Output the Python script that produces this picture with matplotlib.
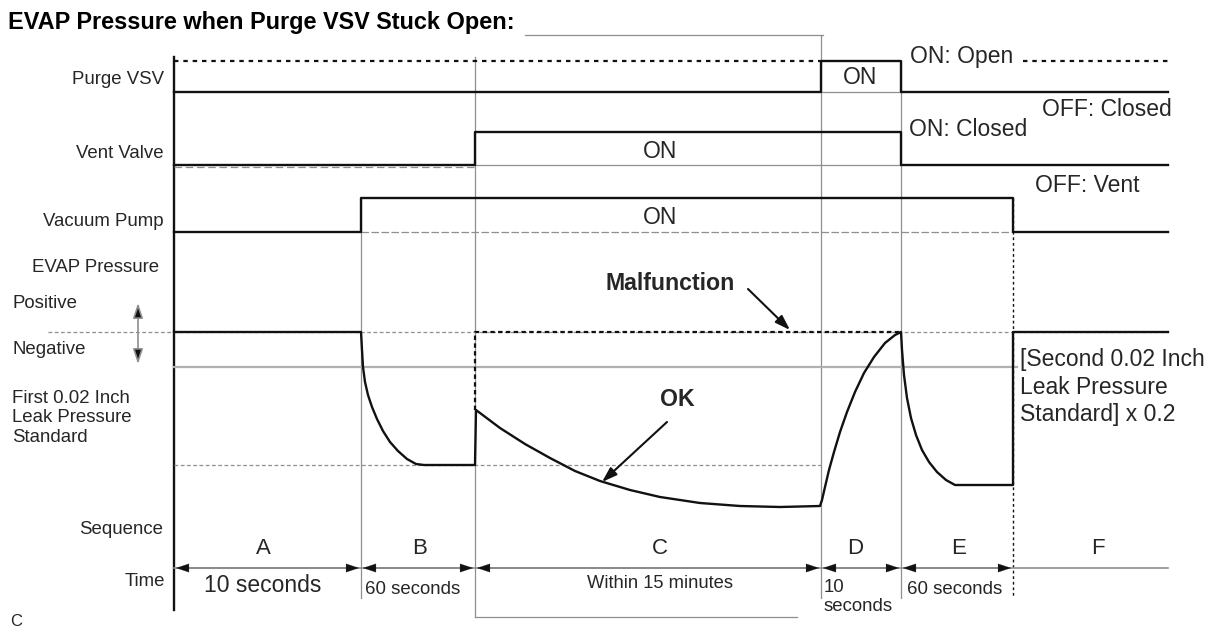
import matplotlib
matplotlib.use('Agg')
import matplotlib.pyplot as plt

plt.rcParams['font.family'] = ['Liberation Sans', 'DejaVu Sans']

# time axis (drawing units), one edge per phase boundary
phase_names = ['A', 'B', 'C', 'D', 'E', 'F']
phase_edges = [174, 361, 475, 821, 901, 1013, 1168]
phase_label_x = [263, 420, 660, 855, 959, 1098]

# on/off state per phase
purge_vsv = [0, 0, 0, 1, 0, 0]
vent_valve = [0, 0, 1, 1, 0, 0]
vacuum_pump = [0, 1, 1, 1, 1, 0]

# EVAP pressure trace (solid = OK case)
evap_t = [174, 361, 361, 362, 363, 365, 368, 372, 377, 383, 390, 398, 407, 416, 424, 475,
          475, 476, 500, 525, 550, 575, 600, 630, 660, 700, 740, 780, 820,
          822, 825, 829, 834, 840, 847, 855, 864, 874, 885, 895, 901,
          902, 904, 907, 911, 916, 922, 929, 937, 946, 955, 1013, 1013, 1168]
evap_y = [332, 332, 332, 350, 367, 382, 395, 407, 419, 431, 442, 451, 459, 464, 465, 465,
          465, 410, 428, 444, 458, 471, 481, 490, 497, 503, 506, 507, 506,
          500, 487, 470, 452, 432, 412, 392, 373, 357, 343, 335, 332,
          350, 375, 398, 418, 435, 450, 462, 472, 480, 485, 485, 332, 332]
malf_t = [475, 475, 901]
malf_y = [410, 332, 332]

zero_level = 332
first_std = 367
b_floor = 465

fig = plt.figure(figsize=(12.14, 6.34), dpi=100)
ax = fig.add_axes([0, 0, 1, 1])
ax.set_xlim(0, 1214)
ax.set_ylim(634, 0)
ax.axis('off')

gray = '#8f8f8f'
blk = '#111111'
txt = '#262626'
lw = 1.7

# title and frame lines
ax.text(8, 22, 'EVAP Pressure when Purge VSV Stuck Open:', fontsize=16.9,
        fontweight='bold', va='center', ha='left')
ax.plot([525, 823], [35, 35], color=gray, lw=0.9)
ax.plot([475, 797], [617, 617], color=gray, lw=0.9)
ax.plot([174, 174], [57, 610], color=blk, lw=lw)

# vertical phase lines
ax.plot([361, 361], [198, 598], color=gray, lw=0.9)
ax.plot([475, 475], [57, 617], color=gray, lw=0.9)
ax.plot([821, 821], [35, 598], color=gray, lw=0.9)
ax.plot([901, 901], [61, 598], color=gray, lw=0.9)
ax.plot([1013, 1013], [198, 598], color=blk, lw=1.0, ls=(0, (2, 2)))

# reference lines
ax.plot([821, 901], [92, 92], color=gray, lw=0.9)
ax.plot([174, 475], [167, 167], color=gray, lw=0.9, ls=(0, (6, 3)))
ax.plot([475, 901], [165, 165], color=gray, lw=0.9)
ax.plot([361, 1013], [232, 232], color=gray, lw=0.9, ls=(0, (6, 2)))
ax.plot([48, 1168], [zero_level, zero_level], color=gray, lw=0.9, ls=(0, (3, 2)))
ax.plot([174, 1017], [first_std, first_std], color='#b0b0b0', lw=1.6)
ax.plot([174, 821], [b_floor, b_floor], color=gray, lw=0.9, ls=(0, (3, 2)))

# Purge VSV / Vent Valve / Vacuum Pump
ax.plot([174, 821], [61, 61], color=blk, lw=1.6, ls=(0, (2, 2.2)))
ax.plot([1023, 1168], [61, 61], color=blk, lw=1.6, ls=(0, (2, 2.2)))
ax.step(phase_edges, [92 - 31 * v for v in purge_vsv + purge_vsv[-1:]],
        where='post', color=blk, lw=lw)
ax.step(phase_edges, [165 - 33 * v for v in vent_valve + vent_valve[-1:]],
        where='post', color=blk, lw=lw)
ax.step(phase_edges, [232 - 34 * v for v in vacuum_pump + vacuum_pump[-1:]],
        where='post', color=blk, lw=lw)

# EVAP pressure
ax.plot(malf_t, malf_y, color=blk, lw=1.6, ls=(0, (2, 1.5)))
ax.plot(evap_t, evap_y, color=blk, lw=lw)

# row labels
lab = dict(fontsize=13.4, va='center', color=txt)
ax.text(164, 79, 'Purge VSV', ha='right', **lab)
ax.text(164, 153, 'Vent Valve', ha='right', **lab)
ax.text(164, 222, 'Vacuum Pump', ha='right', **lab)
ax.text(159, 267, 'EVAP Pressure', ha='right', **lab)
ax.text(13, 303, 'Positive', ha='left', **lab)
ax.text(13, 349, 'Negative', ha='left', **lab)
ax.text(12, 418, 'First 0.02 Inch\nLeak Pressure\nStandard', ha='left',
        linespacing=1.22, **lab)
ax.text(163, 530, 'Sequence', ha='right', **lab)
ax.text(165, 582, 'Time', ha='right', **lab)
ax.text(10, 622, 'C', ha='left', fontsize=12, va='center', color=txt)

# positive / negative double arrow
ax.annotate('', xy=(138, 303), xytext=(138, 364),
            arrowprops=dict(arrowstyle='<|-|>,head_length=0.9,head_width=0.3',
                            fc=blk, ec=gray, lw=1.2, shrinkA=0, shrinkB=0))

# state labels
big = dict(fontsize=16.5, va='center', color=txt)
ax.text(860, 78, 'ON', ha='center', **big)
ax.text(660, 151, 'ON', ha='center', **big)
ax.text(660, 218, 'ON', ha='center', **big)
ax.text(910, 57, 'ON: Open', ha='left', **big)
ax.text(1042, 109, 'OFF: Closed', ha='left', **big)
ax.text(909, 130, 'ON: Closed', ha='left', **big)
ax.text(1035, 185, 'OFF: Vent', ha='left', **big)
ax.text(1020, 387, '[Second 0.02 Inch\nLeak Pressure\nStandard] x 0.2', ha='left',
        linespacing=1.25, **big)

# callouts
ax.text(670, 284, 'Malfunction', ha='center', va='center', fontsize=16.7,
        fontweight='bold', color=txt)
ax.text(677, 400, 'OK', ha='center', va='center', fontsize=16.7,
        fontweight='bold', color=txt)
arw = dict(arrowstyle='-|>,head_length=0.9,head_width=0.3', fc=blk, ec=blk,
           lw=1.5, shrinkA=0, shrinkB=0)
ax.annotate('', xy=(790, 330), xytext=(748, 289), arrowprops=arw)
ax.annotate('', xy=(602, 482), xytext=(667, 422), arrowprops=arw)

# sequence / time row
ax.plot([174, 1168], [568, 568], color=gray, lw=1.2)
for i, name in enumerate(phase_names):
    ax.text(phase_label_x[i], 548, name, ha='center', va='center', fontsize=16,
            color=txt)
for l, r in zip(phase_edges[:5], phase_edges[1:6]):
    ax.annotate('', xy=(l + 2, 568), xytext=(r - 2, 568),
                arrowprops=dict(arrowstyle='<|-|>,head_length=0.9,head_width=0.3',
                                fc=blk, ec=blk, lw=0.2, shrinkA=0, shrinkB=0))

ax.text(263, 585, '10 seconds', ha='center', va='center', fontsize=16.5, color=txt)
ax.text(413, 589, '60 seconds', ha='center', va='center', fontsize=13.4, color=txt)
ax.text(660, 583, 'Within 15 minutes', ha='center', va='center', fontsize=13.2,
        color=txt)
ax.text(824, 597, '10\nseconds', ha='left', va='center', fontsize=13.4,
        linespacing=1.15, color=txt)
ax.text(955, 589, '60 seconds', ha='center', va='center', fontsize=13.4, color=txt)

fig.savefig('out.png', dpi=100)
